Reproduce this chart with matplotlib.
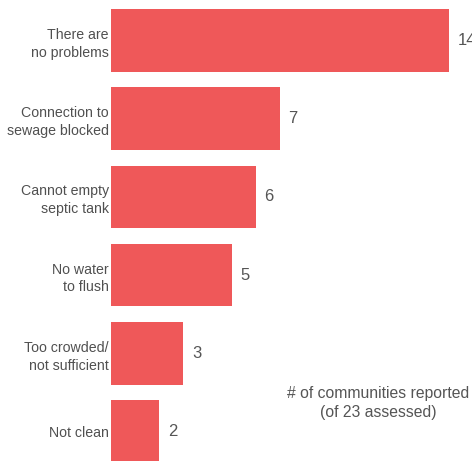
import numpy as np
import matplotlib.pyplot as plt

plt.rcParams['font.family'] = ['Liberation Sans', 'DejaVu Sans']

problems = ['There are\nno problems', 'Connection to\nsewage blocked', 'Cannot empty\nseptic tank',
            'No water\nto flush', 'Too crowded/\nnot sufficient', 'Not clean']
counts = [14, 7, 6, 5, 3, 2]

fig = plt.figure(figsize=(4.72, 4.61), dpi=100)
ax = fig.add_axes([111 / 472, 0, 1 - 111 / 472, 1])

y = np.arange(len(problems))
ax.barh(y, counts, height=0.8, color='#ef5859', edgecolor='none')
ax.set_xlim(0, 361 / 24.14)
ax.set_ylim(5.377, -0.518)

for yi, v in zip(y, counts):
    ax.text(v + 0.35, yi, str(v), va='center', ha='left', fontsize=12, color='#555555')

ax.set_yticks(y)
ax.set_yticklabels(problems, fontsize=10.2, color='#505050', linespacing=1.35)
ax.tick_params(axis='y', length=0, pad=1.5)
ax.set_xticks([])
for s in ax.spines.values():
    s.set_visible(False)

fig.text(378 / 472, 1 - 403 / 461, '# of communities reported\n(of 23 assessed)',
         ha='center', va='center', fontsize=11.3, color='#555555', linespacing=1.4)

fig.savefig('out.png', dpi=100)
